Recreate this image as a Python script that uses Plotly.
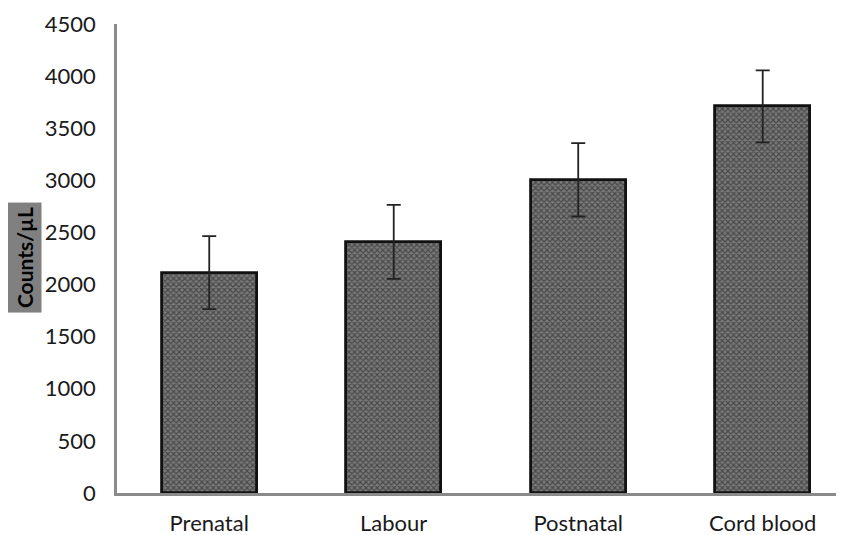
import plotly.graph_objects as go

categories = ["Prenatal", "Labour", "Postnatal", "Cord blood"]
values = [2115, 2410, 3005, 3710]
errors = [350, 355, 352, 345]
y_ticks = list(range(0, 4501, 500))

fig = go.Figure()
fig.add_trace(go.Bar(
    x=categories, y=values, width=0.515,
    marker=dict(
        color="#6e6e6e",
        line=dict(color="#111111", width=2.8),
        pattern=dict(shape="x", fgcolor="#151515", bgcolor="#7a7a7a", size=4, solidity=0.5),
    ),
    error_y=dict(type="data", array=errors, visible=True, color="#222222", thickness=1.8, width=7),
))

font_family = "Lato, Open Sans, sans-serif"
fig.update_layout(
    width=844, height=535,
    margin=dict(l=109, r=0, t=16, b=50),
    paper_bgcolor="white", plot_bgcolor="white",
    showlegend=False,
    font=dict(family=font_family, size=22, color="#1a1a1a"),
    bargap=0,
)
fig.update_xaxes(
    range=[-0.5, 3.484], showline=True, linecolor="#8a8a8a", linewidth=2.5,
    showgrid=False, ticks="", tickfont=dict(size=22), ticklabelstandoff=9,
)
fig.update_yaxes(
    range=[0, 4500], tickvals=y_ticks, showline=True, linecolor="#8a8a8a", linewidth=2.5,
    showgrid=False, ticks="", zeroline=False, tickfont=dict(size=22), ticklabelstandoff=14,
)
fig.add_annotation(
    text="<b>Counts/µL</b>", textangle=-90, xref="paper", yref="paper",
    x=-0.1265, y=0.501, xanchor="center", yanchor="middle", showarrow=False,
    bgcolor="#808080", font=dict(size=21, color="#000000", family=font_family),
    borderpad=4,
)
fig.write_html("out.html")
